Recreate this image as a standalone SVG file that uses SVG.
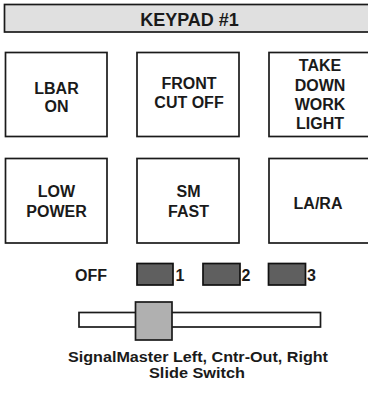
<svg xmlns="http://www.w3.org/2000/svg" width="368" height="394" viewBox="0 0 368 394">
<style>
  .box { fill: #ffffff; stroke: #1a1a1a; stroke-width: 1.7; }
  .hdr { fill: #e0e0e0; stroke: #1a1a1a; stroke-width: 1.7; }
  .ind { fill: #5f5f5f; stroke: #111111; stroke-width: 1.7; }
  .knob { fill: #b0b0b0; stroke: #1a1a1a; stroke-width: 1.7; }
  .lbl { font-family: "Liberation Sans", Arial, sans-serif; font-weight: bold; font-size: 16px; fill: #1a1a1a; text-anchor: middle; }
  .sm { font-family: "Liberation Sans", Arial, sans-serif; font-weight: bold; font-size: 16px; fill: #1a1a1a; }
  .cap { font-family: "Liberation Sans", Arial, sans-serif; font-weight: bold; font-size: 14.5px; fill: #1a1a1a; text-anchor: middle; }
</style>
<rect width="368" height="394" fill="#ffffff"/>
<g id="header">
  <rect class="hdr" x="4.5" y="4.5" width="370" height="27.5"/>
  <text class="lbl" x="189.5" y="26" style="font-size:18px">KEYPAD #1</text>
</g>
<g id="lbar-on">
  <rect class="box" x="5.5" y="52.5" width="101.5" height="84"/>
  <text class="lbl" x="56.5" y="94.3">LBAR</text>
  <text class="lbl" x="56.5" y="111.5">ON</text>
</g>
<g id="front-cut-off">
  <rect class="box" x="137" y="52.5" width="102" height="84"/>
  <text class="lbl" x="189" y="89.3">FRONT</text>
  <text class="lbl" x="189" y="108">CUT OFF</text>
</g>
<g id="take-down-work-light">
  <rect class="box" x="269" y="52.5" width="102" height="84"/>
  <text class="lbl" x="320" y="71">TAKE</text>
  <text class="lbl" x="320" y="91">DOWN</text>
  <text class="lbl" x="320" y="110">WORK</text>
  <text class="lbl" x="320" y="128.5">LIGHT</text>
</g>
<g id="low-power">
  <rect class="box" x="5.5" y="158.5" width="101.5" height="84.5"/>
  <text class="lbl" x="56.5" y="197">LOW</text>
  <text class="lbl" x="56.5" y="216.5">POWER</text>
</g>
<g id="sm-fast">
  <rect class="box" x="137" y="158.5" width="102" height="84.5"/>
  <text class="lbl" x="188.5" y="197">SM</text>
  <text class="lbl" x="188.5" y="216.5">FAST</text>
</g>
<g id="la-ra">
  <rect class="box" x="269" y="158.5" width="102" height="84.5"/>
  <text class="lbl" x="318" y="209">LA/RA</text>
</g>
<g id="indicators">
  <text class="lbl" x="91" y="281">OFF</text>
  <rect class="ind" x="137" y="263.5" width="36" height="21.5"/>
  <text class="sm" x="175.5" y="281">1</text>
  <rect class="ind" x="203" y="263.5" width="37" height="21.5"/>
  <text class="sm" x="241.5" y="281">2</text>
  <rect class="ind" x="268.5" y="263.5" width="37" height="21.5"/>
  <text class="sm" x="307" y="281">3</text>
</g>
<g id="slide-switch">
  <rect class="box" x="79" y="312.5" width="241.5" height="14.5"/>
  <rect class="knob" x="135.5" y="302" width="36.5" height="38"/>
  <text class="cap" x="198" y="362" textLength="260" lengthAdjust="spacingAndGlyphs">SignalMaster Left, Cntr-Out, Right</text>
  <text class="cap" x="197" y="378" textLength="96" lengthAdjust="spacingAndGlyphs">Slide Switch</text>
</g>
<g id="connectors"></g>
</svg>
